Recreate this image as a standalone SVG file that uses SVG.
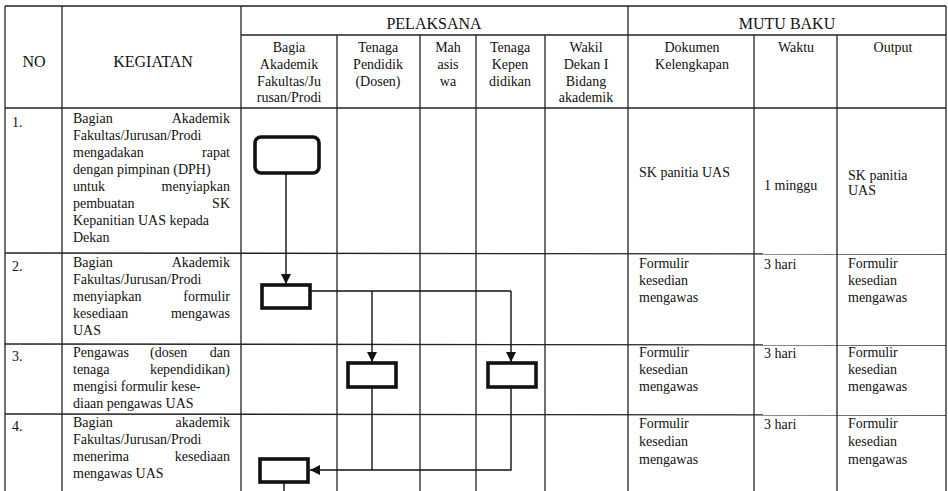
<svg xmlns="http://www.w3.org/2000/svg" width="948" height="491" viewBox="0 0 948 491">
<defs>
<marker id="arr" viewBox="0 0 10 10" refX="10" refY="5" markerWidth="10" markerHeight="10" markerUnits="userSpaceOnUse" orient="auto">
<path d="M0,0 L10,5 L0,10 Z" fill="#111"/>
</marker>
<style>
.grid line{stroke:#222;stroke-width:1.3}
text{font-family:"Liberation Serif","Times New Roman",serif;fill:#111;font-size:14px}
.h{font-size:16px}
.c{text-anchor:middle}
.e{text-anchor:end}
.box{fill:#fff;stroke:#111;stroke-width:3.6}
.con{fill:none;stroke:#111;stroke-width:1.4}
</style>
</defs>
<rect width="948" height="491" fill="#fff"/>
<g id="grid" class="grid">
<line x1="5" y1="6" x2="946" y2="6"/>
<line x1="241" y1="35" x2="946" y2="35"/>
<line x1="5" y1="108" x2="946" y2="108"/>
<line x1="5" y1="253" x2="946" y2="254"/>
<line x1="5" y1="344" x2="946" y2="345"/>
<line x1="5" y1="414" x2="946" y2="415"/>
<line x1="5" y1="6" x2="5" y2="491"/>
<line x1="62" y1="6" x2="62" y2="491"/>
<line x1="241" y1="6" x2="241" y2="491"/>
<line x1="628" y1="6" x2="628" y2="491"/>
<line x1="946" y1="6" x2="946" y2="491"/>
<line x1="337" y1="35" x2="337" y2="491"/>
<line x1="420" y1="35" x2="420" y2="491"/>
<line x1="476" y1="35" x2="476" y2="491"/>
<line x1="545" y1="35" x2="545" y2="491"/>
<line x1="754" y1="35" x2="754" y2="491"/>
<line x1="837" y1="35" x2="837" y2="491"/>
</g>
<g id="header">
<text class="h c" x="34" y="67">NO</text>
<text class="h c" x="153" y="67">KEGIATAN</text>
<text class="h c" x="434" y="29">PELAKSANA</text>
<text class="h c" x="787" y="29">MUTU BAKU</text>
<text class="c" x="289" y="52">Bagia</text>
<text class="c" x="289" y="69">Akademik</text>
<text class="c" x="289" y="86">Fakultas/Ju</text>
<text class="c" x="289" y="102">rusan/Prodi</text>
<text class="c" x="378" y="52">Tenaga</text>
<text class="c" x="378" y="69">Pendidik</text>
<text class="c" x="378" y="86">(Dosen)</text>
<text class="c" x="448" y="52">Mah</text>
<text class="c" x="448" y="69">asis</text>
<text class="c" x="448" y="86">wa</text>
<text class="c" x="510" y="52">Tenaga</text>
<text class="c" x="510" y="69">Kepen</text>
<text class="c" x="510" y="86">didikan</text>
<text class="c" x="586" y="52">Wakil</text>
<text class="c" x="586" y="69">Dekan I</text>
<text class="c" x="586" y="86">Bidang</text>
<text class="c" x="586" y="102">akademik</text>
<text class="c" x="692" y="52">Dokumen</text>
<text class="c" x="692" y="69">Kelengkapan</text>
<text class="c" x="796" y="52">Waktu</text>
<text class="c" x="893" y="52">Output</text>
</g>
<g id="row1">
<text x="12" y="127">1.</text>
<text x="73" y="123">Bagian</text><text class="e" x="230" y="123">Akademik</text>
<text x="73" y="140">Fakultas/Jurusan/Prodi</text>
<text x="73" y="157">mengadakan</text><text class="e" x="230" y="157">rapat</text>
<text x="73" y="174">dengan pimpinan (DPH)</text>
<text x="73" y="191">untuk</text><text class="e" x="230" y="191">menyiapkan</text>
<text x="73" y="208">pembuatan</text><text class="e" x="230" y="208">SK</text>
<text x="73" y="225">Kepanitian UAS kepada</text>
<text x="73" y="242">Dekan</text>
<text x="639" y="177">SK panitia UAS</text>
<text x="764" y="190">1 minggu</text>
<text x="848" y="180">SK panitia</text>
<text x="848" y="195">UAS</text>
</g>
<g id="row2">
<text x="12" y="271">2.</text>
<text x="73" y="267">Bagian</text><text class="e" x="230" y="267">Akademik</text>
<text x="73" y="284">Fakultas/Jurusan/Prodi</text>
<text x="73" y="301">menyiapkan</text><text class="e" x="230" y="301">formulir</text>
<text x="73" y="318">kesediaan</text><text class="e" x="230" y="318">mengawas</text>
<text x="73" y="335">UAS</text>
<text x="639" y="268">Formulir</text>
<text x="639" y="285">kesedian</text>
<text x="639" y="302">mengawas</text>
<text x="764" y="269">3 hari</text>
<text x="848" y="268">Formulir</text>
<text x="848" y="285">kesedian</text>
<text x="848" y="302">mengawas</text>
</g>
<g id="row3">
<text x="12" y="361">3.</text>
<text x="73" y="357">Pengawas</text><text x="150" y="357">(dosen</text><text class="e" x="230" y="357">dan</text>
<text x="73" y="374">tenaga</text><text class="e" x="230" y="374">kependidikan)</text>
<text x="73" y="391">mengisi formulir kese-</text>
<text x="73" y="408">diaan pengawas UAS</text>
<text x="639" y="357">Formulir</text>
<text x="639" y="374">kesedian</text>
<text x="639" y="391">mengawas</text>
<text x="764" y="358">3 hari</text>
<text x="848" y="357">Formulir</text>
<text x="848" y="374">kesedian</text>
<text x="848" y="391">mengawas</text>
</g>
<g id="row4">
<text x="12" y="431">4.</text>
<text x="73" y="427">Bagian</text><text class="e" x="230" y="427">akademik</text>
<text x="73" y="444">Fakultas/Jurusan/Prodi</text>
<text x="73" y="461">menerima</text><text class="e" x="230" y="461">kesediaan</text>
<text x="73" y="478">mengawas UAS</text>
<text x="639" y="428">Formulir</text>
<text x="639" y="446">kesedian</text>
<text x="639" y="464">mengawas</text>
<text x="764" y="429">3 hari</text>
<text x="848" y="428">Formulir</text>
<text x="848" y="446">kesedian</text>
<text x="848" y="464">mengawas</text>
</g>
<g id="connectors">
<line class="con" x1="286" y1="173" x2="286" y2="284" marker-end="url(#arr)"/>
<polyline class="con" points="310,291 511,291"/>
<line class="con" x1="372" y1="291" x2="372" y2="362" marker-end="url(#arr)"/>
<line class="con" x1="511" y1="291" x2="511" y2="362" marker-end="url(#arr)"/>
<line class="con" x1="372" y1="387" x2="372" y2="470"/>
<polyline class="con" points="511,387 511,470 310,470" marker-end="url(#arr)"/>
<line class="con" x1="284" y1="482" x2="284" y2="491"/>
</g>
<g id="n1"><rect class="box" x="255" y="137" width="64" height="36" rx="6"/></g>
<g id="n2"><rect class="box" x="262" y="285" width="48" height="23"/></g>
<g id="n3a"><rect class="box" x="348" y="363" width="48" height="24"/></g>
<g id="n3b"><rect class="box" x="488" y="363" width="48" height="24"/></g>
<g id="n4"><rect class="box" x="260" y="459" width="48" height="23"/></g>
</svg>
